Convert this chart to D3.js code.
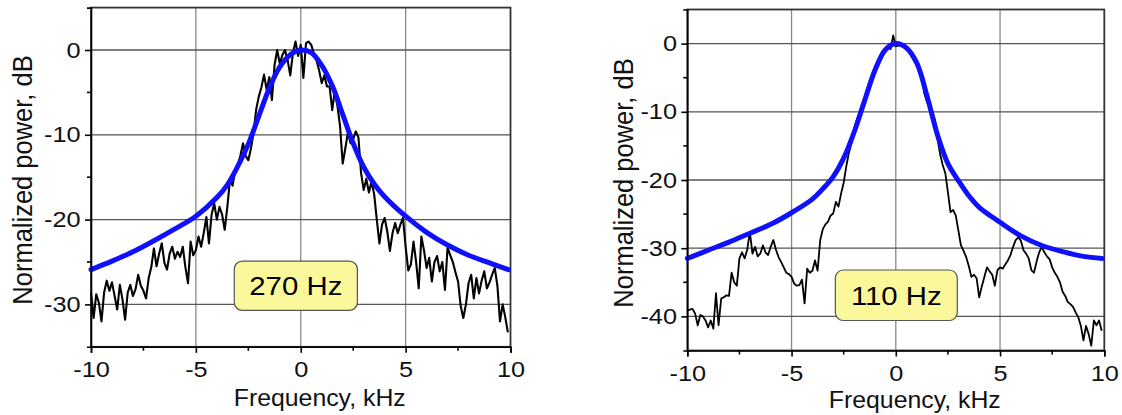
<!DOCTYPE html>
<html>
<head>
<meta charset="utf-8">
<script src="https://cdn.jsdelivr.net/npm/d3@7"></script>
<style>
    body { margin: 0; background: #fff; }
    svg { display: block; font-family: "Liberation Sans", Arial, sans-serif; }
    .grid-h line { stroke: #555; stroke-width: 1.3; }
    .grid-v line { stroke: #888; stroke-width: 1.3; }
    .axis path, .axis line { stroke: #000; stroke-width: 1.6; }
    .axis text { font-size: 22px; fill: #111; }
    .frame { fill: none; stroke: #333; stroke-width: 1.8; }
    .fit { fill: none; stroke: #1010ff; stroke-width: 5; stroke-linejoin: round; stroke-linecap: round; }
    .noise { fill: none; stroke: #000; stroke-linejoin: round; }
    .label-box { fill: #fbf89c; stroke: #555; stroke-width: 1.2; }
    .label-text { font-size: 26px; fill: #000; }
    .x-title { font-size: 23px; fill: #111; }
    .y-title { font-size: 25.5px; fill: #111; }
</style>
</head>
<body>
<div id="chart"></div>
<script>
// spectra are sampled every 0.125 kHz starting at -10 kHz
const sampleStep = 0.125;
const xTicks = [-10, -5, 0, 5, 10];
const xMinorTicks = [-7.5, -2.5, 2.5, 7.5];

// 270 Hz linewidth (left panel)
const leftNoise = [
    -28.6, -31.6, -28.8, -29.8, -32.0, -28.6, -27.2, -28.4, -27.4, -29.0,
    -30.6, -27.7, -29.4, -31.8, -28.6, -27.7, -29.0, -28.2, -26.5, -27.8,
    -28.4, -29.3, -26.9, -25.6, -23.4, -25.5, -24.0, -22.8, -25.1, -25.9,
    -24.0, -23.2, -24.6, -23.8, -24.4, -23.2, -25.6, -27.5, -22.6, -24.2,
    -23.6, -22.0, -23.2, -21.6, -19.7, -22.8, -19.4, -18.1, -20.0, -18.5,
    -19.4, -21.2, -18.5, -15.3, -16.0, -14.2, -13.6, -12.4, -11.0, -12.5,
    -13.0, -11.6, -9.8, -7.0, -5.5, -4.4, -2.9, -4.7, -3.2, -5.9,
    -1.8, 0.0, -1.6, -0.6, 0.0, -1.2, -3.0, -0.4, 1.0, -0.7,
    0.6, -3.3, 0.8, 1.0, 0.6, -0.4, -1.2, -2.4, -3.9, -3.0,
    -4.3, -4.3, -7.1, -4.8, -6.6, -9.0, -13.4, -11.6, -9.7, -11.0,
    -10.5, -9.6, -10.3, -14.5, -16.5, -15.2, -16.8, -15.5, -17.0, -20.0,
    -22.8, -20.6, -19.8, -21.4, -23.7, -21.6, -20.4, -21.6, -20.6, -19.8,
    -23.2, -26.0, -25.3, -22.6, -25.0, -28.1, -22.0, -23.6, -25.7, -24.5,
    -27.3, -25.0, -24.3, -26.1, -25.0, -28.3, -23.3, -24.2, -25.0, -26.2,
    -27.3, -30.2, -31.6, -30.0, -27.5, -26.5, -29.3, -26.9, -28.7, -27.2,
    -26.1, -28.1, -27.4, -26.5, -25.7, -27.8, -32.0, -30.0, -31.5, -33.3
];
const leftFitFreq = [-10, -9, -8, -7, -6, -5, -4, -3.5, -3, -2.5, -2, -1.5, -1, -0.5, 0,
    0.5, 1, 1.5, 2, 2.5, 3, 3.5, 4, 5, 6, 7, 8, 9, 9.9];
const leftFitDb = [-25.9, -24.9, -23.8, -22.5, -21.1, -19.6, -17.4, -15.9, -13.7, -11.1, -7.8, -4.5, -2.0, -0.55, 0,
    -0.3, -1.8, -4.2, -7.6, -11.0, -13.8, -15.8, -17.3, -19.6, -21.5, -23.0, -24.2, -25.1, -25.9];
const leftTicksY = [0, -10, -20, -30];

// 110 Hz linewidth (right panel)
const rightNoise = [
    -39.1, -39.0, -38.9, -39.6, -41.3, -39.8, -40.0, -40.6, -41.6, -40.6,
    -41.8, -36.6, -41.3, -37.4, -37.2, -36.9, -37.0, -33.6, -35.0, -35.5,
    -31.5, -30.6, -31.5, -30.2, -27.6, -30.8, -29.8, -31.2, -30.8, -29.6,
    -30.6, -31.0, -29.8, -28.8, -30.2, -31.3, -32.0, -32.8, -33.6, -33.8,
    -34.2, -35.2, -35.5, -35.4, -34.6, -38.1, -33.0, -33.6, -33.3, -31.8,
    -33.3, -28.8, -27.2, -26.5, -26.1, -25.2, -24.9, -23.2, -23.9, -22.0,
    -20.4, -18.0, -16.0, -14.6, -12.6, -11.2, -10.2, -9.0, -8.0, -6.6,
    -5.6, -4.6, -3.6, -2.8, -2.2, -1.6, -1.2, -0.6, -0.8, 1.2,
    -0.4, -0.3, -0.2, -0.2, -0.5, -1.2, -1.8, -2.5, -3.1, -4.2,
    -5.0, -7.4, -8.6, -9.3, -9.9, -11.2, -14.0, -16.2, -17.8, -19.0,
    -21.8, -24.7, -24.4, -25.2, -27.4, -29.6, -30.4, -31.3, -32.6, -34.2,
    -33.9, -34.4, -37.2, -35.6, -34.2, -32.8, -33.4, -33.9, -35.5, -33.2,
    -32.8, -33.0, -32.4, -31.8, -31.0, -29.8, -28.8, -28.4, -28.9, -30.3,
    -30.8, -31.5, -33.2, -33.6, -32.0, -30.6, -29.8, -30.6, -31.2, -31.6,
    -32.8, -33.6, -34.2, -35.0, -36.4, -37.0, -37.9, -38.2, -38.6, -39.4,
    -40.1, -41.4, -43.5, -41.4, -42.6, -44.3, -40.6, -41.3, -40.6, -42.1
];
const rightFitFreq = [-10, -9, -8, -7, -6, -5, -4, -3.5, -3, -2.5, -2, -1.5, -1, -0.5, 0,
    0.5, 1, 1.5, 2, 2.5, 3, 3.5, 4, 5, 6, 7, 8, 9, 9.9];
const rightFitDb = [-31.5, -30.3, -29.1, -27.8, -26.5, -24.8, -22.8, -21.3, -19.5, -16.8, -13.0, -8.4, -3.9, -0.9, 0,
    -0.6, -2.8, -7.7, -13.4, -17.6, -20.1, -22.3, -24.0, -26.2, -28.2, -29.6, -30.5, -31.2, -31.5];
const rightTicksY = [0, -10, -20, -30, -40];

const svg = d3.select('#chart')
    .append('svg')
    .attr('width', 1122)
    .attr('height', 415);

// the source figure is stretched sideways a little, text included
const tickStretch = 1.15;

const spectrumPlot = {
    init(left, right, top, bottom, yDomain, yTicks) {
        this.x = d3.scaleLinear().domain([-10, 10]).range([left, right]);
        this.y = d3.scaleLinear().domain(yDomain).range([bottom, top]);
        this.yTicks = yTicks;
        this.g = svg.append('g');
        return this;
    },

    render(noise, fitFreq, fitDb, noiseWidth) {
        this.renderGrid();
        this.renderLines(noise, fitFreq, fitDb, noiseWidth);
        this.renderAxes();
    },

    renderGrid() {
        const [x0, x1] = this.x.range();
        const [y0, y1] = this.y.range();
        this.g.append('g')
            .attr('class', 'grid-v')
            .selectAll('line')
            .data(xTicks.slice(1, -1))
            .join('line')
            .attr('x1', d => this.x(d)).attr('x2', d => this.x(d))
            .attr('y1', y1).attr('y2', y0);
        this.g.append('g')
            .attr('class', 'grid-h')
            .selectAll('line')
            .data(this.yTicks)
            .join('line')
            .attr('x1', x0).attr('x2', x1)
            .attr('y1', d => this.y(d)).attr('y2', d => this.y(d));
        this.g.append('rect')
            .attr('class', 'frame')
            .attr('x', x0).attr('y', y1)
            .attr('width', x1 - x0).attr('height', y0 - y1);
    },

    renderLines(noise, fitFreq, fitDb, noiseWidth) {
        const line = d3.line()
            .x(d => this.x(d[0]))
            .y(d => this.y(d[1]));

        this.g.append('path')
            .datum(noise.map((v, i) => [-10 + i * sampleStep, v]))
            .attr('class', 'noise')
            .attr('stroke-width', noiseWidth)
            .attr('d', line);

        this.g.append('path')
            .datum(fitFreq.map((f, i) => [f, fitDb[i]]))
            .attr('class', 'fit')
            .attr('d', line.curve(d3.curveCatmullRom));
    },

    renderAxes() {
        const x0 = this.x.range()[0];
        const y0 = this.y.range()[0];
        const fmt = d => String(d);

        const xAxis = this.g.append('g')
            .attr('class', 'axis')
            .attr('transform', `translate(0 ${y0})`)
            .call(d3.axisBottom(this.x).tickValues(xTicks).tickFormat(fmt).tickSize(6).tickPadding(9));
        xAxis.selectAll('.minor')
            .data(xMinorTicks)
            .join('line')
            .attr('class', 'minor')
            .attr('x1', d => this.x(d)).attr('x2', d => this.x(d))
            .attr('y1', 0).attr('y2', 4);

        // minor ticks sit halfway between the labelled ones
        const [yLo, yHi] = this.y.domain();
        const yAxis = this.g.append('g')
            .attr('class', 'axis')
            .attr('transform', `translate(${x0} 0)`)
            .call(d3.axisLeft(this.y).tickValues(this.yTicks).tickFormat(fmt)
                .tickSize(6).tickSizeOuter(4).tickPadding(3));
        yAxis.selectAll('.minor')
            .data(d3.range(yLo + 10, yHi, 10))
            .join('line')
            .attr('class', 'minor')
            .attr('x1', 0).attr('x2', -4)
            .attr('y1', d => this.y(d)).attr('y2', d => this.y(d));

        this.g.selectAll('.axis .tick text').attr('transform', `scale(${tickStretch},1)`);
    },

    renderLabel(text, f0, f1, db0, db1) {
        const bx = this.x(f0), bw = this.x(f1) - this.x(f0);
        const by = this.y(db0), bh = this.y(db1) - this.y(db0);
        this.g.append('rect')
            .attr('class', 'label-box')
            .attr('x', bx).attr('y', by)
            .attr('width', bw).attr('height', bh)
            .attr('rx', 8);
        this.g.append('text')
            .attr('class', 'label-text')
            .attr('text-anchor', 'middle')
            .attr('dy', '0.36em')
            .attr('transform', `translate(${bx + bw / 2} ${by + bh / 2}) scale(1.13,1)`)
            .text(text);
    },

    renderTitles(yTitleX, yTitleY, xTitleY) {
        const [x0, x1] = this.x.range();
        this.g.append('text')
            .attr('class', 'x-title')
            .attr('text-anchor', 'middle')
            .attr('transform', `translate(${(x0 + x1) / 2 + 19} ${xTitleY}) scale(1.08,1)`)
            .text('Frequency, kHz');
        this.g.append('text')
            .attr('class', 'y-title')
            .attr('text-anchor', 'middle')
            .attr('dy', '0.35em')
            .attr('transform', `translate(${yTitleX} ${yTitleY}) scale(1.1,1) rotate(-90)`)
            .text('Normalized power, dB');
    }
};

const leftPlot = Object.create(spectrumPlot).init(91, 510.5, 7.6, 346.8, [-35, 5], leftTicksY);
leftPlot.render(leftNoise, leftFitFreq, leftFitDb, 2.1);
leftPlot.renderLabel('270 Hz', -3.17, 2.70, -24.9, -30.7);
leftPlot.renderTitles(22, 180, 406);

const rightPlot = Object.create(spectrumPlot).init(687.3, 1104.3, 9.5, 350.5, [-45, 5], rightTicksY);
rightPlot.render(rightNoise, rightFitFreq, rightFitDb, 1.8);
rightPlot.renderLabel('110 Hz', -2.9, 2.95, -33.2, -40.6);
rightPlot.renderTitles(623, 183, 408);
</script>
</body>
</html>
